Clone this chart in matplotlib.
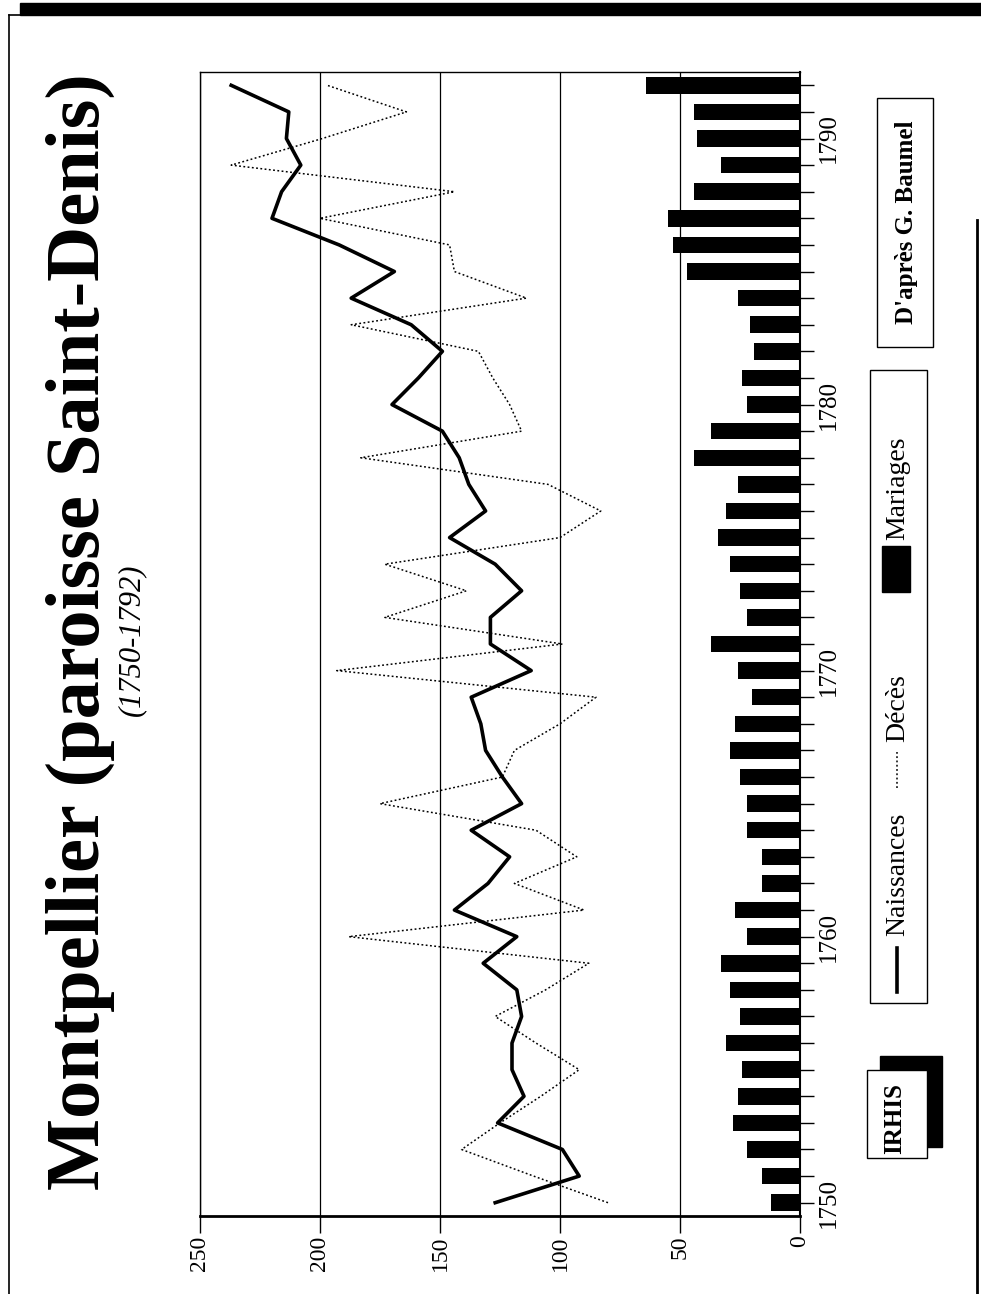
import matplotlib.pyplot as plt
from matplotlib.patches import Rectangle
from matplotlib.lines import Line2D

# Montpellier, paroisse Saint-Denis, 1750-1792 (page is drawn turned a quarter turn)
years = list(range(1750, 1793))
naissances = [127, 92, 99, 126, 115, 120, 120, 116, 118, 132,
              118, 144, 130, 121, 137, 116, 124, 131, 133, 137,
              112, 129, 129, 116, 127, 146, 131, 138, 142, 149,
              170, 159, 149, 162, 187, 169, 192, 220, 216, 208,
              214, 213, 237]
deces = [80, 111, 141, 125, 108, 92, 110, 127, 106, 88,
         188, 90, 119, 93, 110, 175, 124, 119, 100, 85,
         193, 99, 173, 139, 173, 100, 83, 105, 183, 116,
         121, 128, 134, 187, 114, 144, 146, 200, 144, 237,
         199, 164, 197]
mariages = [12, 16, 22, 28, 26, 24, 31, 25, 29, 33,
            22, 27, 16, 16, 22, 22, 25, 29, 27, 20,
            26, 37, 22, 25, 29, 34, 31, 26, 44, 37,
            22, 24, 19, 21, 26, 47, 53, 55, 44, 33,
            43, 44, 64]
value_ticks = [0, 50, 100, 150, 200, 250]
year_ticks = [1750, 1760, 1770, 1780, 1790]

W, H = 981, 1294
serif = 'Liberation Serif'
plt.rcParams['font.family'] = serif

fig = plt.figure(figsize=(W / 100, H / 100), dpi=100)


def fx(px):
    return px / W


def fy(py):
    return 1 - py / H


ax = fig.add_axes([fx(200), fy(1216), fx(800) - fx(200), fy(72) - fy(1216)])

ax.barh(years, mariages, height=0.62, color='black', zorder=2)
ax.plot(deces, years, color='black', lw=1.1, ls=(0, (1.2, 1.6)), zorder=3)
ax.plot(naissances, years, color='black', lw=2.6, zorder=4)

ax.set_xlim(250, 0)
ax.set_ylim(1749.5, 1792.5)
ax.set_xticks(value_ticks)
ax.set_yticks(year_ticks)
ax.set_yticks(years, minor=True)
ax.grid(axis='x', color='black', lw=0.9, zorder=1)

ax.yaxis.tick_right()
ax.tick_params(axis='x', direction='out', length=12, width=1, labelsize=17,
               labelrotation=90, pad=2)
ax.tick_params(axis='y', which='both', direction='out', length=10, width=1,
               labelsize=18, labelrotation=90, pad=3)
for lab in ax.get_yticklabels():
    lab.set_va('center')

ax.spines['bottom'].set_linewidth(2)
ax.spines['right'].set_linewidth(1.5)
ax.spines['top'].set_linewidth(1)
ax.spines['left'].set_linewidth(1)

# page frame
fig.add_artist(Rectangle((fx(20), fy(15)), 1 - fx(20), fy(3) - fy(15),
                         transform=fig.transFigure, color='black'))
fig.add_artist(Line2D([fx(9), fx(9)], [0, fy(15)], transform=fig.transFigure,
                      color='black', lw=1.2))
fig.add_artist(Line2D([fx(9), 1], [fy(15), fy(15)], transform=fig.transFigure,
                      color='black', lw=1.2))
fig.add_artist(Line2D([fx(977), fx(977)], [0, fy(220)], transform=fig.transFigure,
                      color='black', lw=2))

# titles
fig.text(fx(80), fy(632), 'Montpellier (paroisse Saint-Denis)', rotation=90,
         ha='center', va='center', fontsize=55, fontweight='bold')
fig.text(fx(132), fy(640), '(1750-1792)', rotation=90, ha='center',
         va='center', fontsize=22, style='italic')

# legend box
fig.add_artist(Rectangle((fx(870), fy(1003)), fx(927) - fx(870), fy(370) - fy(1003),
                         transform=fig.transFigure, fill=False, ec='black', lw=1))
fig.add_artist(Line2D([fx(897), fx(897)], [fy(992), fy(948)],
                      transform=fig.transFigure, color='black', lw=2.6))
fig.text(fx(898), fy(936), 'Naissances', rotation=90, rotation_mode='anchor',
         ha='left', va='center', fontsize=20)
fig.add_artist(Line2D([fx(897), fx(897)], [fy(788), fy(752)],
                      transform=fig.transFigure, color='black', lw=1.1,
                      ls=(0, (1.2, 1.6))))
fig.text(fx(898), fy(742), 'Décès', rotation=90, rotation_mode='anchor',
         ha='left', va='center', fontsize=20)
fig.add_artist(Rectangle((fx(882), fy(592)), fx(910) - fx(882), fy(546) - fy(592),
                         transform=fig.transFigure, color='black'))
fig.text(fx(898), fy(540), 'Mariages', rotation=90, rotation_mode='anchor',
         ha='left', va='center', fontsize=20)

# source box
fig.add_artist(Rectangle((fx(877), fy(347)), fx(933) - fx(877), fy(98) - fy(347),
                         transform=fig.transFigure, fill=False, ec='black', lw=1))
fig.text(fx(906), fy(222), "D'après G. Baumel", rotation=90, ha='center',
         va='center', fontsize=18, fontweight='bold')

# IRHIS logo
fig.add_artist(Rectangle((fx(880), fy(1147)), fx(942) - fx(880), fy(1056) - fy(1147),
                         transform=fig.transFigure, color='black'))
fig.add_artist(Rectangle((fx(867), fy(1158)), fx(927) - fx(867), fy(1070) - fy(1158),
                         transform=fig.transFigure, fc='white', ec='black', lw=1))
fig.text(fx(895), fy(1118), 'IRHIS', rotation=90, ha='center', va='center',
         fontsize=18, fontweight='bold')

fig.savefig('out.png', dpi=100)
